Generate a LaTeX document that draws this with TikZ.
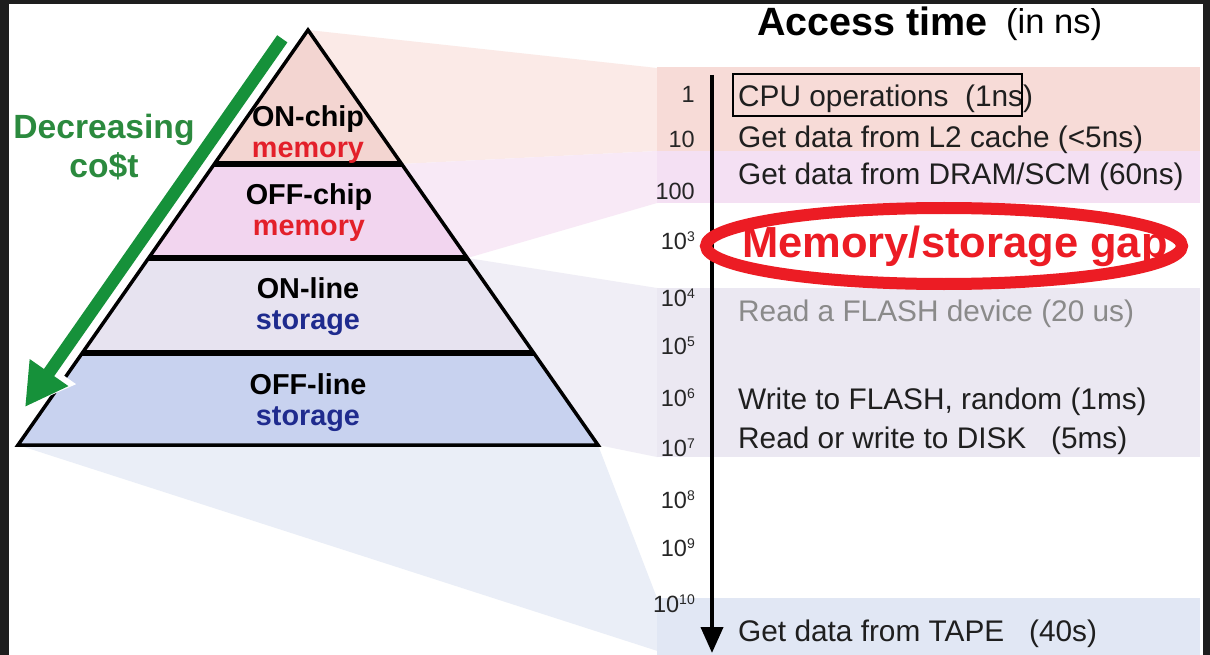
\documentclass[tikz,border=0pt]{standalone}
\usepackage{fontspec}
\setmainfont{Liberation Sans}
\usetikzlibrary{arrows.meta,calc}

\definecolor{frame}{HTML}{1E1E1E}
\definecolor{layA}{HTML}{F3D5D1}
\definecolor{layB}{HTML}{F2D5EF}
\definecolor{layC}{HTML}{E7E3F0}
\definecolor{layD}{HTML}{C8D2EF}
\definecolor{fanA}{HTML}{FBEAE7}
\definecolor{fanB}{HTML}{F8E9F6}
\definecolor{fanC}{HTML}{F0EEF6}
\definecolor{fanD}{HTML}{EAEEF7}
\definecolor{bandA}{HTML}{F7DBD7}
\definecolor{bandB}{HTML}{F4E0F3}
\definecolor{bandC}{HTML}{EBE8F2}
\definecolor{bandD}{HTML}{E1E7F4}
\definecolor{costgreen}{HTML}{2B8A3E}
\definecolor{arrowgreen}{HTML}{16913A}
\definecolor{memred}{HTML}{E3202A}
\definecolor{storblue}{HTML}{1F2B8E}
\definecolor{gapred}{HTML}{EC1C24}
\definecolor{flashgrey}{HTML}{8A8A8A}

\newcommand\tickexp[1]{\raisebox{8pt}{\fontsize{14}{14}\selectfont #1}}

\tikzset{
  layerlabel/.style={align=center, font=\bfseries\fontsize{28.8}{31}\selectfont, inner sep=0pt},
  rowtext/.style={anchor=base west, font=\fontsize{29.8}{32}\selectfont, inner sep=0pt, text=black!88},
  ticktext/.style={anchor=base east, font=\fontsize{23.5}{26}\selectfont, inner sep=0pt, text=black!85},
}

\begin{document}
\begin{tikzpicture}[x=1pt,y=-1pt]
\useasboundingbox (0,0) rectangle (1210,655);
\fill[white] (0,0) rectangle (1210,655);

% pyramid corners
\coordinate (apex) at (308,30);
\coordinate (bl) at (18,445);
\coordinate (br) at (598,445);
\coordinate (l1) at ($(apex)!0.3229!(bl)$);
\coordinate (r1) at ($(apex)!0.3229!(br)$);
\coordinate (l2) at ($(apex)!0.5494!(bl)$);
\coordinate (r2) at ($(apex)!0.5494!(br)$);
\coordinate (l3) at ($(apex)!0.7783!(bl)$);
\coordinate (r3) at ($(apex)!0.7783!(br)$);

% projections from the pyramid levels to the access-time bands
\fill[fanA] (apex) -- (657,68) -- (657,151) -- (r1) -- cycle;
\fill[fanB] (r1) -- (657,151) -- (657,203) -- (r2) -- cycle;
\fill[fanC] (r2) -- (657,288) -- (657,457) -- (br) -- cycle;
\fill[fanD] (bl) -- (br) -- (657,598) -- (657,655) -- (670,655) -- cycle;

% access-time bands
\fill[bandA] (657,67) rectangle (1200,151);
\fill[bandB] (657,151) rectangle (1200,203);
\fill[bandC] (657,288) rectangle (1200,457);
\fill[bandD] (657,598) rectangle (1200,655);

% pyramid levels
\fill[layA] (apex) -- (r1) -- (l1) -- cycle;
\fill[layB] (l1) -- (r1) -- (r2) -- (l2) -- cycle;
\fill[layC] (l2) -- (r2) -- (r3) -- (l3) -- cycle;
\fill[layD] (l3) -- (r3) -- (br) -- (bl) -- cycle;
\draw[line width=3.5, line join=miter] (apex) -- (br) -- (bl) -- cycle;
\draw[line width=6] (l1) -- (r1);
\draw[line width=6] (l2) -- (r2);
\draw[line width=6] (l3) -- (r3);

\node[layerlabel] (onchip) at (308,135) {ON-chip\\\textcolor{memred}{memory}};
\node[layerlabel] (offchip) at (309,213) {OFF-chip\\\textcolor{memred}{memory}};
\node[layerlabel] (online) at (308,307) {ON-line\\\textcolor{storblue}{storage}};
\node[layerlabel] (offline) at (308,403) {OFF-line\\\textcolor{storblue}{storage}};

% cost arrow along the pyramid side
\coordinate (costtop) at (282.3,38.8);
\coordinate (costtip) at (25,407);
\draw[white, line width=18, -{Triangle[length=48,width=54]}] (costtop) -- (costtip);
\draw[arrowgreen, line width=12.5, -{Triangle[length=42,width=44]}] (costtop) -- (costtip);

\node[align=center, text=costgreen, font=\bfseries\fontsize{33.6}{39}\selectfont, inner sep=0pt] (cost) at (104,147) {Decreasing\\co\$t};

% title
\node[anchor=base west, font=\bfseries\fontsize{39.5}{42}\selectfont, inner sep=0pt] (title) at (757,36) {Access time};
\node[anchor=base west, font=\fontsize{34.5}{37}\selectfont, inner sep=0pt] (unit) at (1006,34) {(in ns)};

% time axis
\coordinate (axtop) at (712,75);
\coordinate (axbot) at (712,653);
\draw[line width=4, -{Triangle[length=26,width=22]}] (axtop) -- (axbot);

\node[ticktext] (t0) at (695,103) {1};
\node[ticktext] (t1) at (695,148) {10};
\node[ticktext] (t2) at (695,200) {100};
\node[ticktext] (t3) at (695,249) {10\tickexp{3}};
\node[ticktext] (t4) at (695,306) {10\tickexp{4}};
\node[ticktext] (t5) at (695,354) {10\tickexp{5}};
\node[ticktext] (t6) at (695,406) {10\tickexp{6}};
\node[ticktext] (t7) at (695,456) {10\tickexp{7}};
\node[ticktext] (t8) at (695,508) {10\tickexp{8}};
\node[ticktext] (t9) at (695,556) {10\tickexp{9}};
\node[ticktext] (t10) at (695,612) {10\tickexp{10}};

% access-time entries
\node[rowtext] (cpu) at (738,107) {CPU operations\ \ (1ns)};
\draw[line width=2.5] (733,74) rectangle (1022,116);
\node[rowtext] (l2c) at (738,148) {Get data from L2 cache (<5ns)};
\node[rowtext] (dram) at (738,185) {Get data from DRAM/SCM (60ns)};
\node[rowtext, text=flashgrey] (flashrd) at (738,321) {Read a FLASH device (20 us)};
\node[rowtext] (flashwr) at (738,409) {Write to FLASH, random (1ms)};
\node[rowtext] (disk) at (738,448) {Read or write to DISK\ \ \ (5ms)};
\node[rowtext] (tape) at (738,641) {Get data from TAPE\ \ \ (40s)};

% the gap: ring first, words on top
\draw[gapred, line width=12] (944,246) ellipse [x radius=238, y radius=38];
\node[anchor=base west, text=gapred, font=\bfseries\fontsize{43.5}{47}\selectfont, inner sep=0pt] (gap) at (742,258) {Memory/storage gap};

% dark frame
\fill[frame] (0,0) rectangle (1210,4);
\fill[frame] (0,0) rectangle (9,655);
\fill[frame] (1203,0) rectangle (1210,655);
\end{tikzpicture}
\end{document}
